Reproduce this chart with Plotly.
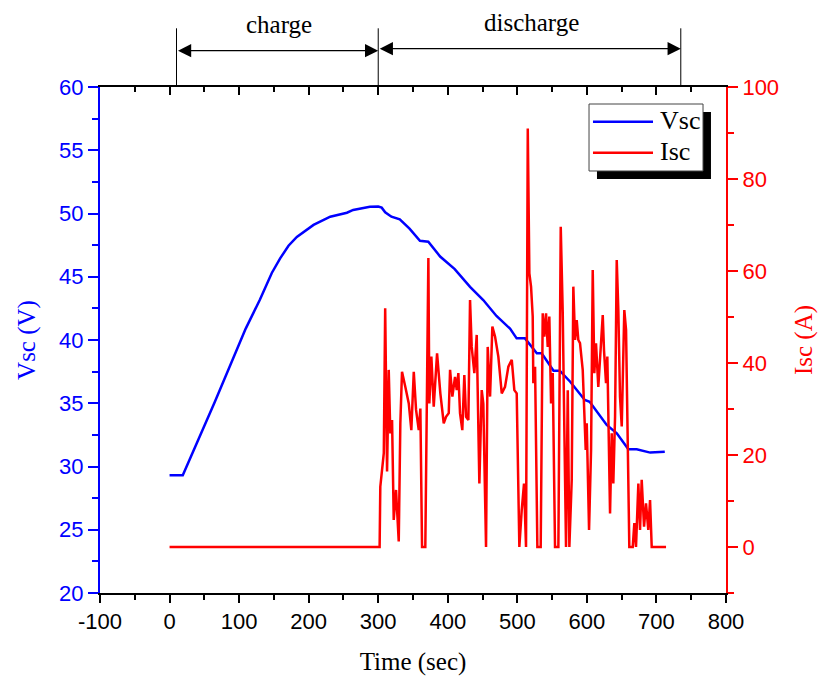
import plotly.graph_objects as go

# ---- data ----
t_v = [0, 19, 65, 109.5, 130, 147, 159, 171, 183, 197, 207, 231, 255, 264, 288, 300, 305, 310,
       319, 331, 345, 360, 372, 389, 410, 432, 451, 470, 489.5, 499, 511, 528, 535, 552, 561,
       576, 597, 604, 628.5, 643, 659.6, 671.6, 691, 712]
vsc = [29.3, 29.3, 35.1, 40.9, 43.2, 45.3, 46.45, 47.45, 48.15, 48.7, 49.1, 49.75, 50.06, 50.28,
       50.54, 50.55, 50.46, 50.1, 49.75, 49.54, 48.8, 47.85, 47.77, 46.6, 45.6, 44.2, 43.16,
       41.9, 40.9, 40.13, 40.13, 38.95, 38.95, 37.57, 37.57, 36.7, 35.26, 35.12, 33.28, 32.62,
       31.36, 31.36, 31.1, 31.17]

t_i = [0, 302, 303, 308, 310, 312.7, 315.1, 317.4, 319.9, 322.3, 325.6, 329.5, 331.8, 334.2,
       339, 343.9, 347.6, 351.1, 354.4, 358.3, 360.6, 363, 367.7, 372.1, 373.5, 376.4, 379.8,
       384.6, 389.3, 394.2, 397.5, 401.4, 403.3, 406.6, 410.4, 412.9, 415.2, 417.6, 420.9,
       423.8, 426.3, 429.6, 432, 434.4, 438.2, 441.6, 445.4, 448.8, 451.1, 455, 457.4, 460.8,
       464.1, 468, 472.7, 477.6, 482.3, 487.1, 492, 495.7, 499.1, 502.9, 506.3, 509.6, 512.5,
       515, 517.3, 519.7, 522.1, 523, 525.5, 528.8, 533.6, 536.5, 538.8, 541.3, 543.7, 546,
       548.5, 550.9, 554.2, 559, 562.4, 565.3, 567.6, 570, 572.5, 574.8, 578.2, 580.5, 583,
       585.4, 587.7, 590.1, 594, 595.9, 598.3, 599.8, 603.1, 606, 608.4, 610.7, 613.1, 616.4,
       619.9, 622.8, 624.6, 627.5, 629.4, 633.3, 635.7, 638, 640.5, 642.9, 645.2, 647.6,
       650.1, 653.8, 656.3, 658.7, 661, 665.9, 668.2, 670.6, 674, 676.4, 678.8, 682.2, 685,
       688.3, 690.8, 693.2, 713.8]
isc = [0, 0, 13.1, 20.4, 51.9, 16.4, 38.5, 24.7, 27.6, 5.9, 12.4, 1.2, 26.9, 38.1,
       34.8, 31.2, 25.4, 38.1, 29.8, 25.4, 30.1, 0, 0, 62.8, 31.2, 41.4, 30.5,
       42.1, 33.4, 26.9, 28.3, 29.1, 38.5, 32.7, 37.0, 34.1, 37.8, 29.1, 25.4,
       37.4, 28.3, 27.6, 53.7, 43.5, 37.8, 46.1, 13.8, 34.1, 31.2, 0, 43.5, 32.7,
       47.9, 45.7, 41.4, 33.4, 34.8, 39.2, 40.7, 34.1, 33.4, 0, 8.0, 13.8, 0,
       91.0, 59.5, 56.6, 50.1, 35.6, 39.2, 0, 0, 50.8, 45.7, 50.8, 43.5, 50.1,
       31.2, 37.8, 0, 0, 69.6, 50.8, 25.4, 0, 34.1, 0, 14.6, 56.6, 45,
       49.3, 45, 44.3, 38.5, 30.5, 21.1, 26.9, 3.7, 21.1, 60.2, 37.8, 44.3, 34.8,
       42.8, 50.4, 42.8, 35.6, 41.4, 7.3, 24.7, 13.8, 28.3, 62.4, 51.5, 32.7,
       26.2, 51.5, 47.2, 26.9, 0, 0, 5.2, 0, 13.8, 3.7, 14.6, 4.4, 9.5,
       3.7, 10.2, 0, 0]

x_ticks = [-100, 0, 100, 200, 300, 400, 500, 600, 700, 800]
x_ticktext = ["-100", "0", "100", "200", "300", "400", "500", "600", "700", "800"]
v_ticks = [20, 25, 30, 35, 40, 45, 50, 55, 60]
i_ticks = [0, 20, 40, 60, 80, 100]
phase_bounds = [10, 300, 735]
phase_labels = ["charge", "discharge"]
series_names = ["Vsc", "Isc"]

BLUE = "#0000FF"
RED = "#FF0000"
SANS = "Liberation Sans, Arial, sans-serif"
SERIF = "Liberation Serif, Times New Roman, serif"

fig = go.Figure()
fig.add_trace(go.Scatter(x=t_v, y=vsc, name=series_names[0], mode="lines",
                         line=dict(color=BLUE, width=2.5), yaxis="y"))
fig.add_trace(go.Scatter(x=t_i, y=isc, name=series_names[1], mode="lines",
                         line=dict(color=RED, width=2.5), yaxis="y2"))
# helper trace so the top x-axis is drawn
fig.add_trace(go.Scatter(x=[None], y=[None], xaxis="x2", yaxis="y",
                         showlegend=False, hoverinfo="skip"))

fig.update_layout(
    width=818, height=679,
    margin=dict(l=100, r=92, t=87, b=86, autoexpand=False),
    paper_bgcolor="white", plot_bgcolor="white",
    showlegend=False,
    xaxis=dict(range=[-100, 800], tickvals=x_ticks, ticktext=x_ticktext, ticks="outside",
               ticklen=8, tickwidth=1.5, tickcolor="black", showline=True,
               linecolor="black", linewidth=2, showgrid=False, zeroline=False,
               automargin=False,
               minor=dict(dtick=50, tick0=0, ticks="outside", ticklen=5, tickcolor="black",
                          tickwidth=1.5),
               tickfont=dict(family=SANS, size=22, color="black"),
               title=dict(text="Time (sec)", font=dict(family=SERIF, size=25, color="black"),
                          standoff=19)),
    xaxis2=dict(range=[-100, 800], overlaying="x", side="top", tickvals=x_ticks,
                ticks="inside", ticklen=8, tickwidth=1.5, tickcolor="black",
                showticklabels=False, showline=True, linecolor="black", linewidth=2,
                showgrid=False, zeroline=False, automargin=False,
                minor=dict(dtick=50, tick0=0, ticks="inside", ticklen=5, tickcolor="black",
                           tickwidth=1.5)),
    yaxis=dict(range=[20, 60], tickvals=v_ticks, ticks="outside", ticklen=10,
               tickwidth=2, tickcolor=BLUE, showline=True, linecolor=BLUE, linewidth=2,
               showgrid=False, zeroline=False, automargin=False,
               minor=dict(dtick=2.5, tick0=20, ticks="outside", ticklen=6, tickcolor=BLUE,
                          tickwidth=2),
               tickfont=dict(family=SANS, size=22, color=BLUE),
               title=dict(text="Vsc (V)", font=dict(family=SERIF, size=25, color=BLUE),
                          standoff=16)),
    yaxis2=dict(range=[-10, 100], overlaying="y", side="right", tickvals=i_ticks,
                ticks="outside", ticklen=10, tickwidth=2, tickcolor=RED, showline=True,
                linecolor=RED, linewidth=2, showgrid=False, zeroline=False,
                automargin=False,
                minor=dict(dtick=10, tick0=0, ticks="outside", ticklen=6, tickcolor=RED,
                           tickwidth=2),
                tickfont=dict(family=SANS, size=22, color=RED),
                title=dict(text="Isc (A)", font=dict(family=SERIF, size=25, color=RED),
                           standoff=18)),
)

# ---- legend (drawn manually, Origin style with drop shadow) ----
fig.add_shape(type="rect", xref="paper", yref="paper", x0=0.7939, x1=0.976, y0=0.8182,
              y1=0.9506, fillcolor="black", line=dict(width=0), layer="above")
fig.add_shape(type="rect", xref="paper", yref="paper", x0=0.7812, x1=0.9633, y0=0.834,
              y1=0.9664, fillcolor="white", line=dict(color="#444444", width=1),
              layer="above")
leg_y = [0.9314, 0.870]
leg_col = [BLUE, RED]
for name, yy, col in zip(series_names, leg_y, leg_col):
    fig.add_shape(type="line", xref="paper", yref="paper", x0=0.7875, x1=0.8834, y0=yy,
                  y1=yy, line=dict(color=col, width=2.5), layer="above")
    fig.add_annotation(x=0.8915, y=yy + 0.002, xref="paper", yref="paper", text=name,
                       showarrow=False, xanchor="left", yanchor="middle",
                       font=dict(family=SERIF, size=26, color="black"))

# ---- phase markers above the plot ----
for b in phase_bounds:
    fig.add_shape(type="line", xref="x", yref="paper", x0=b, x1=b, y0=1.0, y1=1.116,
                  line=dict(color="black", width=1))
arrow_y = [1.0717, 1.0757]
for i, lab in enumerate(phase_labels):
    a, b = phase_bounds[i], phase_bounds[i + 1]
    fig.add_annotation(x=b, y=arrow_y[i], xref="x", yref="paper", ax=a, ay=0,
                       axref="x", ayref="pixel", text="", showarrow=True,
                       arrowhead=2, arrowside="end+start", arrowsize=2.2, arrowwidth=1.2,
                       arrowcolor="black")
    fig.add_annotation(x=(a + b) / 2 + 3, y=arrow_y[i] + 0.022, xref="x", yref="paper",
                       text=lab, showarrow=False, yanchor="bottom",
                       font=dict(family=SERIF, size=25, color="black"))

fig.write_html("out.html")
